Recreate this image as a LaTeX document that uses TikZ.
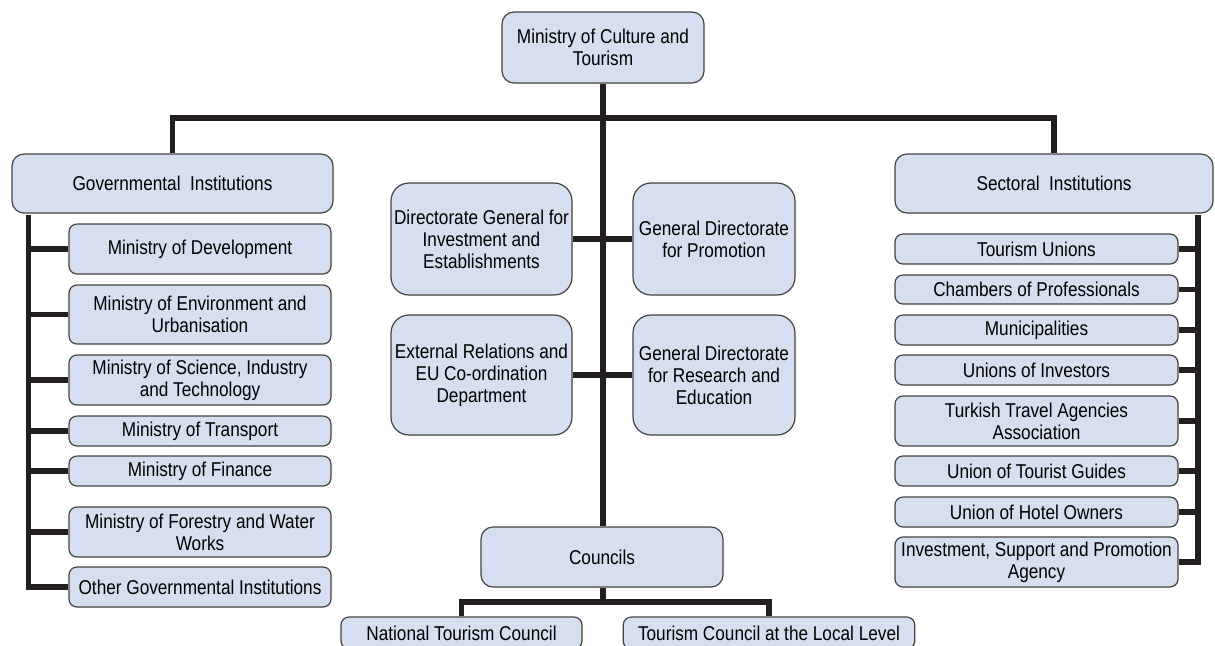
\documentclass[tikz,border=0pt]{standalone}
\usepackage{fontspec}
\setmainfont[FakeStretch=0.86]{Liberation Sans}
\definecolor{orgfill}{RGB}{213,223,239}
\definecolor{orgline}{RGB}{35,31,32}
\usetikzlibrary{positioning,calc}

\begin{document}
\begin{tikzpicture}[x=0.5pt, y=-0.5pt,
  orgbox/.style={draw=orgline!85, line width=0.6pt, fill=orgfill, rounded corners=4pt,
    align=center, inner sep=1pt, font=\fontsize{10}{11}\selectfont},
  headbox/.style={orgbox, rounded corners=6pt},
  dirbox/.style={orgbox, rounded corners=9pt, minimum width=90.5pt, minimum height=56pt},
  govitem/.style={orgbox, minimum width=131pt},
  secitem/.style={orgbox, minimum width=141.5pt},
  link/.style={draw=orgline, line width=2.6pt}]

\useasboundingbox (0,0) rectangle (1215,645);
\clip (0,0) rectangle (1215,645);

% Top of the chart
\node[headbox, minimum width=101pt, minimum height=35.5pt] (mct) at (603,47.5)
  {Ministry of Culture and\\Tourism};

\node[headbox, minimum width=160.5pt, minimum height=29.5pt] (gov) at (172.5,183.5)
  {Governmental\ \ Institutions};
\node[headbox, minimum width=159pt, minimum height=29.5pt] (sec) at (1054,183.5)
  {Sectoral\ \ Institutions};

% Governmental side
\node[govitem, minimum height=25pt] (g1) at (200,249) {Ministry of Development};
\node[govitem, minimum height=29.5pt] (g2) at (200,314.5) {Ministry of Environment and\\Urbanisation};
\node[govitem, minimum height=25pt] (g3) at (200,380) {Ministry of Science, Industry\\and Technology};
\node[govitem, minimum height=15pt] (g4) at (200,431) {Ministry of Transport};
\node[govitem, minimum height=15pt] (g5) at (200,471) {Ministry of Finance};
\node[govitem, minimum height=25pt] (g6) at (200,532) {Ministry of Forestry and Water\\Works};
\node[govitem, minimum height=20pt] (g7) at (200,587) {Other Governmental Institutions};

% Directorates
\node[dirbox] (d1) at (481.5,239) {Directorate General for\\Investment and\\Establishments};
\node[dirbox, minimum width=81pt] (d2) at (714,239) {General Directorate\\for Promotion};
\node[dirbox, minimum height=60pt] (d3) at (481.5,375) {External Relations and\\EU Co-ordination\\Department};
\node[dirbox, minimum width=81pt, minimum height=60pt] (d4) at (714,375) {General Directorate\\for Research and\\Education};

% Councils
\node[headbox, minimum width=121pt, minimum height=30pt] (cou) at (602,557) {Councils};
\node[orgbox, minimum width=120.5pt, minimum height=16pt] (nat) at (461.5,633) {National Tourism Council};
\node[orgbox, minimum width=145.75pt, minimum height=16pt] (loc) at (769,633) {Tourism Council at the Local Level};

% Sectoral side
\node[secitem, minimum height=15pt] (s1) at (1036.5,249) {Tourism Unions};
\node[secitem, minimum height=14.5pt] (s2) at (1036.5,289.5) {Chambers of Professionals};
\node[secitem, minimum height=15pt] (s3) at (1036.5,330) {Municipalities};
\node[secitem, minimum height=15pt] (s4) at (1036.5,370) {Unions of Investors};
\node[secitem, minimum height=25pt] (s5) at (1036.5,421) {Turkish Travel Agencies\\Association};
\node[secitem, minimum height=15pt] (s6) at (1036.5,471) {Union of Tourist Guides};
\node[secitem, minimum height=15pt] (s7) at (1036.5,512) {Union of Hotel Owners};
\node[secitem, minimum height=25pt] (s8) at (1036.5,562) {Investment, Support and Promotion\\Agency};

\coordinate (bus) at (603,118);
\coordinate (cbus) at (603,602);
\coordinate (grail) at (28.5,215);
\coordinate (srail) at (1198,215);

% Connecting lines
\draw[link] (mct.south) -- (cou.north -| mct.south);
\draw[link] (gov.north) -- (gov.north |- bus) -| (sec.north);
\draw[link] (d1.east) -- (d2.west);
\draw[link] (d3.east) -- (d4.west);
\draw[link] (cou.south -| cbus) -- (cbus);
\draw[link] (nat.north) |- (cbus) -| (loc.north);
\draw[link] (grail) |- (g7.west);
\foreach \g in {g1,g2,g3,g4,g5,g6}
  \draw[link] (\g.west) -- (\g.west -| grail);
\draw[link] (srail) |- (s8.east);
\foreach \s in {s1,s2,s3,s4,s5,s6,s7}
  \draw[link] (\s.east) -- (\s.east -| srail);

\end{tikzpicture}
\end{document}
